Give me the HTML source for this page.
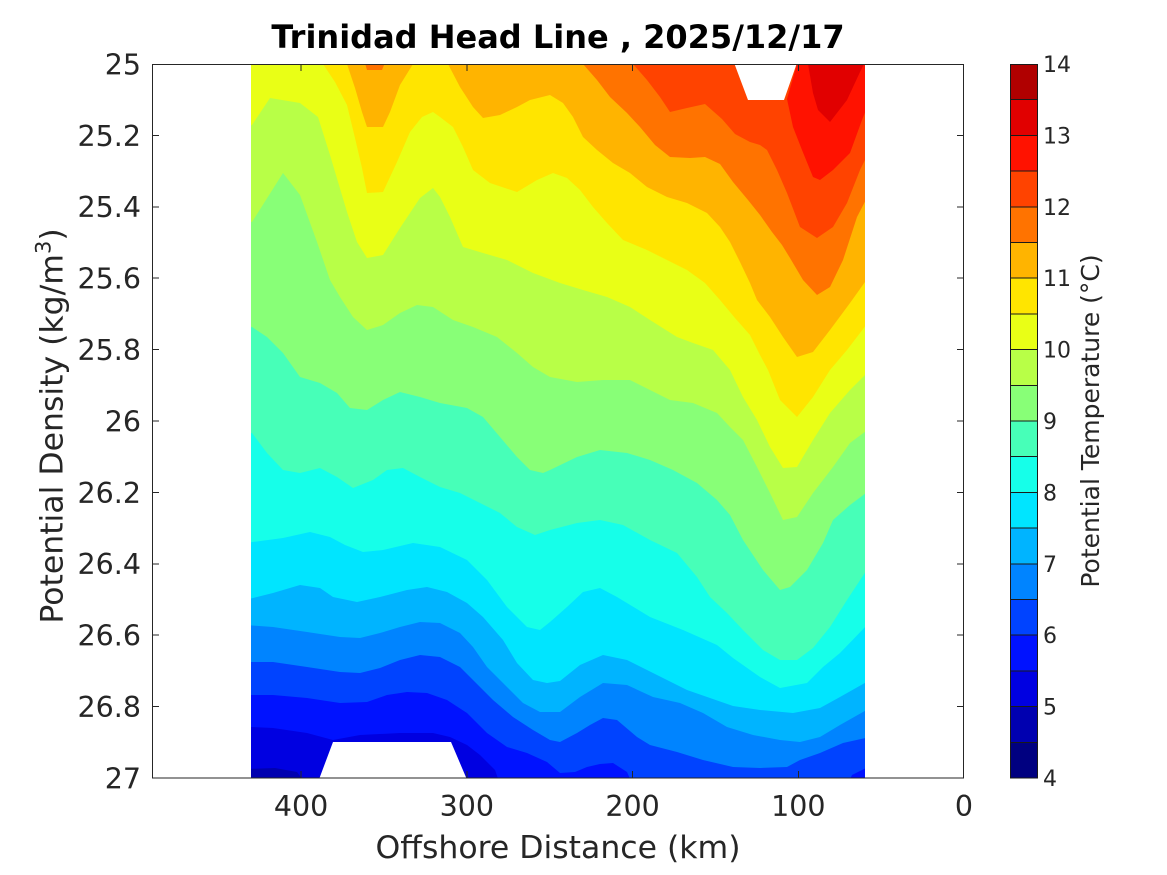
<!DOCTYPE html>
<html>
<head>
<meta charset="utf-8">
<style>
html,body{margin:0;padding:0;background:#fff;overflow:hidden;}
svg{display:block;}
text{font-family:"DejaVu Sans","Liberation Sans",sans-serif;fill:#262626;}
</style>
</head>
<body>
<svg width="1167" height="875" viewBox="0 0 1167 875" xmlns="http://www.w3.org/2000/svg">
<rect x="0" y="0" width="1167" height="875" fill="#ffffff"/>
<defs>
<clipPath id="c"><rect x="251" y="64" width="614" height="714"/></clipPath>
</defs>

<g clip-path="url(#c)" shape-rendering="geometricPrecision">
<!-- base: 5-5.5 -->
<rect x="240" y="50" width="640" height="740" fill="#0000E1"/>
<!-- 4.5-5 patch -->
<polygon points="245,769 275,768 297,772 303,780 245,780" fill="#0000B0"/>
<!-- >5.5 -->
<polygon fill="#0012FF" points="245,727 252,727 273,728 307,733 333,740 360,735 400,733 433,733 450,737 467,745 480,755 495,770 502,790 870,790 870,40 245,40"/>
<!-- >6 -->
<polygon fill="#0043FF" points="245,695 252,695 273,695 307,698 340,703 367,702 387,695 407,692 427,693 447,700 467,713 487,733 507,747 527,753 547,762 560,773 575,772 587,767 600,764 613,763 627,772 635,790 845,790 852,775 870,766 870,40 245,40"/>
<!-- >6.5 -->
<polygon fill="#0084FF" points="245,662 273,662 307,667 340,672 360,673 380,668 400,660 420,655 440,657 460,667 473,680 493,700 513,717 533,730 550,740 560,742 577,733 590,725 603,718 617,720 637,737 650,745 677,752 703,760 733,767 760,768 787,767 800,760 820,753 843,743 870,737 870,40 245,40"/>
<!-- >7 -->
<polygon fill="#00B4FF" points="245,625 273,627 307,632 340,637 360,638 380,633 400,627 420,622 440,623 460,633 473,647 487,667 503,683 523,703 540,712 560,712 580,697 603,683 627,685 653,697 680,703 703,713 727,727 753,735 780,740 800,742 820,737 840,725 870,708 870,40 245,40"/>
<!-- >7.5 -->
<polygon fill="#00E5FF" points="245,600 273,593 300,585 320,588 333,597 357,602 380,597 407,590 427,587 447,592 467,603 483,617 503,640 517,663 533,680 547,683 560,681 580,665 603,655 627,660 657,675 687,690 710,698 733,706 760,710 793,713 820,708 840,697 870,680 870,40 245,40"/>
<!-- >8 -->
<polygon fill="#16FFE9" points="245,543 283,538 310,532 330,537 345,545 363,552 383,550 413,543 440,547 467,560 487,580 507,607 527,627 540,630 550,622 567,607 583,592 600,588 617,597 650,617 683,630 717,645 733,658 760,677 780,688 807,683 823,667 840,653 870,622 870,40 245,40"/>
<!-- >8.5 -->
<polygon fill="#47FFB8" points="245,433 252,433 267,453 283,470 300,473 320,468 337,477 353,488 373,480 387,470 403,468 420,477 440,487 460,493 480,503 500,513 517,527 535,535 550,530 577,523 600,520 623,525 650,540 677,553 697,577 710,597 727,613 743,630 763,650 780,660 797,660 813,648 830,627 847,600 870,565 870,40 245,40"/>
<!-- >9 -->
<polygon fill="#88FF77" points="245,327 252,327 267,337 283,353 300,377 320,383 337,393 350,408 367,410 383,400 400,392 420,397 440,403 467,408 483,417 500,437 517,457 530,470 543,473 550,470 577,457 600,450 627,453 650,460 673,470 697,483 717,500 730,515 743,540 763,570 780,590 790,587 807,570 823,543 833,520 850,505 870,490 870,40 245,40"/>
<!-- >9.5 -->
<polygon fill="#B8FF47" points="245,222 252,222 283,173 300,195 317,242 330,280 340,297 353,317 367,330 383,325 400,313 417,305 433,307 453,320 473,327 497,337 517,353 533,367 550,377 577,382 603,380 630,380 650,390 670,400 693,403 717,413 730,427 743,440 757,467 770,493 783,520 797,517 813,493 833,467 850,443 870,428 870,40 245,40"/>
<!-- >10 -->
<polygon fill="#E9FF16" points="245,127 252,125 270,98 300,103 318,117 330,155 347,212 357,242 367,258 383,255 400,228 420,198 433,188 440,197 450,217 463,247 483,253 507,260 533,273 560,283 583,290 607,297 630,307 650,320 677,337 693,343 713,350 730,370 743,397 757,420 770,447 783,468 797,467 813,440 830,413 850,390 870,370 870,40 245,40"/>
<!-- >10.5 -->
<polygon fill="#FFE500" points="323,40 323,64 335,82 347,105 355,138 362,168 367,193 383,192 397,162 410,132 422,117 433,112 440,117 453,127 463,147 473,170 490,183 517,192 537,180 553,173 567,178 580,190 593,207 607,223 623,240 647,250 667,260 687,270 705,283 720,300 735,318 750,335 760,355 768,370 780,400 797,417 813,397 830,370 847,350 870,320 870,40"/>
<!-- >11 -->
<polygon fill="#FFB400" points="347,40 347,64 355,88 362,112 367,127 383,127 390,112 400,85 413,64 413,40"/>
<polygon fill="#FFB400" points="448,40 448,64 460,87 473,107 483,118 500,115 517,107 530,100 550,95 563,103 573,117 583,137 597,150 613,163 630,173 647,187 667,197 687,203 707,213 720,227 730,242 740,262 750,283 757,300 770,317 783,337 797,357 813,352 830,330 850,303 870,275 870,40"/>
<!-- >11.5 -->
<polygon fill="#FF7300" points="583,40 583,64 597,80 610,97 627,113 640,127 655,145 670,157 690,158 705,157 720,164 733,182 748,200 760,215 772,232 782,245 790,258 803,280 817,295 830,287 843,260 857,217 870,192 870,40"/>
<polygon fill="#FF7300" points="364,60 367,70 382,70 386,60"/>
<!-- >12 -->
<polygon fill="#FF4300" points="633,40 633,64 647,80 660,97 670,112 687,108 705,104 722,119 735,134 750,142 760,145 767,150 777,170 787,193 800,227 817,238 833,227 847,203 860,170 870,150 870,40"/>
<!-- >12.5 -->
<polygon fill="#FF1200" points="797,40 797,64 787,99 793,127 802,150 813,177 820,180 833,170 850,153 862,120 870,100 870,40"/>
<!-- >13 -->
<polygon fill="#E10000" points="808,40 808,64 813,93 818,110 830,122 847,100 860,72 864,64 864,40"/>
<!-- missing-data notches -->
<polygon fill="#ffffff" points="733,60 798,60 784,100 748,100"/>
<polygon fill="#ffffff" points="333,742 451,742 468,782 318,782"/>
</g>

<!-- axes frame -->
<g stroke="#262626" stroke-width="1" fill="none" shape-rendering="crispEdges">
<rect x="152.5" y="64.5" width="811" height="713.5"/>
<!-- x ticks bottom/top -->
<line x1="301.1" y1="778" x2="301.1" y2="771"/>
<line x1="466.8" y1="778" x2="466.8" y2="771"/>
<line x1="632.6" y1="778" x2="632.6" y2="771"/>
<line x1="798.3" y1="778" x2="798.3" y2="771"/>
<line x1="301.1" y1="64" x2="301.1" y2="71"/>
<line x1="466.8" y1="64" x2="466.8" y2="71"/>
<line x1="632.6" y1="64" x2="632.6" y2="71"/>
<line x1="798.3" y1="64" x2="798.3" y2="71"/>
<!-- y ticks left/right -->
<line x1="152" y1="135.4" x2="159" y2="135.4"/>
<line x1="152" y1="206.8" x2="159" y2="206.8"/>
<line x1="152" y1="278.2" x2="159" y2="278.2"/>
<line x1="152" y1="349.6" x2="159" y2="349.6"/>
<line x1="152" y1="421" x2="159" y2="421"/>
<line x1="152" y1="492.4" x2="159" y2="492.4"/>
<line x1="152" y1="563.8" x2="159" y2="563.8"/>
<line x1="152" y1="635.2" x2="159" y2="635.2"/>
<line x1="152" y1="706.6" x2="159" y2="706.6"/>
<line x1="964" y1="135.4" x2="957" y2="135.4"/>
<line x1="964" y1="206.8" x2="957" y2="206.8"/>
<line x1="964" y1="278.2" x2="957" y2="278.2"/>
<line x1="964" y1="349.6" x2="957" y2="349.6"/>
<line x1="964" y1="421" x2="957" y2="421"/>
<line x1="964" y1="492.4" x2="957" y2="492.4"/>
<line x1="964" y1="563.8" x2="957" y2="563.8"/>
<line x1="964" y1="635.2" x2="957" y2="635.2"/>
<line x1="964" y1="706.6" x2="957" y2="706.6"/>
</g>

<!-- title -->
<text x="558" y="48" text-anchor="middle" font-size="32" font-weight="bold" style="fill:#000">Trinidad Head Line , 2025/12/17</text>

<!-- x tick labels -->
<g font-size="28.5" text-anchor="middle">
<text x="301.1" y="816">400</text>
<text x="466.8" y="816">300</text>
<text x="632.6" y="816">200</text>
<text x="798.3" y="816">100</text>
<text x="964" y="816">0</text>
</g>
<text x="558" y="858" text-anchor="middle" font-size="31.5">Offshore Distance (km)</text>

<!-- y tick labels -->
<g font-size="28.5" text-anchor="end">
<text x="141" y="74.4">25</text>
<text x="141" y="145.8">25.2</text>
<text x="141" y="217.2">25.4</text>
<text x="141" y="288.6">25.6</text>
<text x="141" y="360">25.8</text>
<text x="141" y="431.4">26</text>
<text x="141" y="502.8">26.2</text>
<text x="141" y="574.2">26.4</text>
<text x="141" y="645.6">26.6</text>
<text x="141" y="717">26.8</text>
<text x="141" y="788.4">27</text>
</g>
<text transform="translate(62.5,426) rotate(-90)" text-anchor="middle" font-size="31.5">Potential Density (kg/m<tspan font-size="21" dy="-12">3</tspan><tspan dy="12">)</tspan></text>

<!-- colorbar -->
<g shape-rendering="crispEdges">
<rect x="1010" y="64" width="27.5" height="36.2" fill="#B00000"/>
<rect x="1010" y="99.7" width="27.5" height="36.2" fill="#E10000"/>
<rect x="1010" y="135.4" width="27.5" height="36.2" fill="#FF1200"/>
<rect x="1010" y="171.1" width="27.5" height="36.2" fill="#FF4300"/>
<rect x="1010" y="206.8" width="27.5" height="36.2" fill="#FF7300"/>
<rect x="1010" y="242.5" width="27.5" height="36.2" fill="#FFB400"/>
<rect x="1010" y="278.2" width="27.5" height="36.2" fill="#FFE500"/>
<rect x="1010" y="313.9" width="27.5" height="36.2" fill="#E9FF16"/>
<rect x="1010" y="349.6" width="27.5" height="36.2" fill="#B8FF47"/>
<rect x="1010" y="385.3" width="27.5" height="36.2" fill="#88FF77"/>
<rect x="1010" y="421" width="27.5" height="36.2" fill="#47FFB8"/>
<rect x="1010" y="456.7" width="27.5" height="36.2" fill="#16FFE9"/>
<rect x="1010" y="492.4" width="27.5" height="36.2" fill="#00E5FF"/>
<rect x="1010" y="528.1" width="27.5" height="36.2" fill="#00B4FF"/>
<rect x="1010" y="563.8" width="27.5" height="36.2" fill="#0084FF"/>
<rect x="1010" y="599.5" width="27.5" height="36.2" fill="#0043FF"/>
<rect x="1010" y="635.2" width="27.5" height="36.2" fill="#0012FF"/>
<rect x="1010" y="670.9" width="27.5" height="36.2" fill="#0000E1"/>
<rect x="1010" y="706.6" width="27.5" height="36.2" fill="#0000B0"/>
<rect x="1010" y="742.3" width="27.5" height="35.7" fill="#000080"/>
</g>
<g stroke="#1a1a1a" stroke-width="1" shape-rendering="crispEdges">
<line x1="1010" x2="1037.5" y1="99.7" y2="99.7"/>
<line x1="1010" x2="1037.5" y1="135.4" y2="135.4"/>
<line x1="1010" x2="1037.5" y1="171.1" y2="171.1"/>
<line x1="1010" x2="1037.5" y1="206.8" y2="206.8"/>
<line x1="1010" x2="1037.5" y1="242.5" y2="242.5"/>
<line x1="1010" x2="1037.5" y1="278.2" y2="278.2"/>
<line x1="1010" x2="1037.5" y1="313.9" y2="313.9"/>
<line x1="1010" x2="1037.5" y1="349.6" y2="349.6"/>
<line x1="1010" x2="1037.5" y1="385.3" y2="385.3"/>
<line x1="1010" x2="1037.5" y1="421" y2="421"/>
<line x1="1010" x2="1037.5" y1="456.7" y2="456.7"/>
<line x1="1010" x2="1037.5" y1="492.4" y2="492.4"/>
<line x1="1010" x2="1037.5" y1="528.1" y2="528.1"/>
<line x1="1010" x2="1037.5" y1="563.8" y2="563.8"/>
<line x1="1010" x2="1037.5" y1="599.5" y2="599.5"/>
<line x1="1010" x2="1037.5" y1="635.2" y2="635.2"/>
<line x1="1010" x2="1037.5" y1="670.9" y2="670.9"/>
<line x1="1010" x2="1037.5" y1="706.6" y2="706.6"/>
<line x1="1010" x2="1037.5" y1="742.3" y2="742.3"/>
<rect x="1010.5" y="64.5" width="27" height="713.5" fill="none"/>
</g>
<g font-size="22" text-anchor="start">
<text x="1043" y="72">14</text>
<text x="1043" y="143.4">13</text>
<text x="1043" y="214.8">12</text>
<text x="1043" y="286.2">11</text>
<text x="1043" y="357.6">10</text>
<text x="1043" y="429">9</text>
<text x="1043" y="500.4">8</text>
<text x="1043" y="571.8">7</text>
<text x="1043" y="643.2">6</text>
<text x="1043" y="714.6">5</text>
<text x="1043" y="786">4</text>
</g>
<text transform="translate(1099,421) rotate(-90)" text-anchor="middle" font-size="25">Potential Temperature (°C)</text>
</svg>
</body>
</html>
